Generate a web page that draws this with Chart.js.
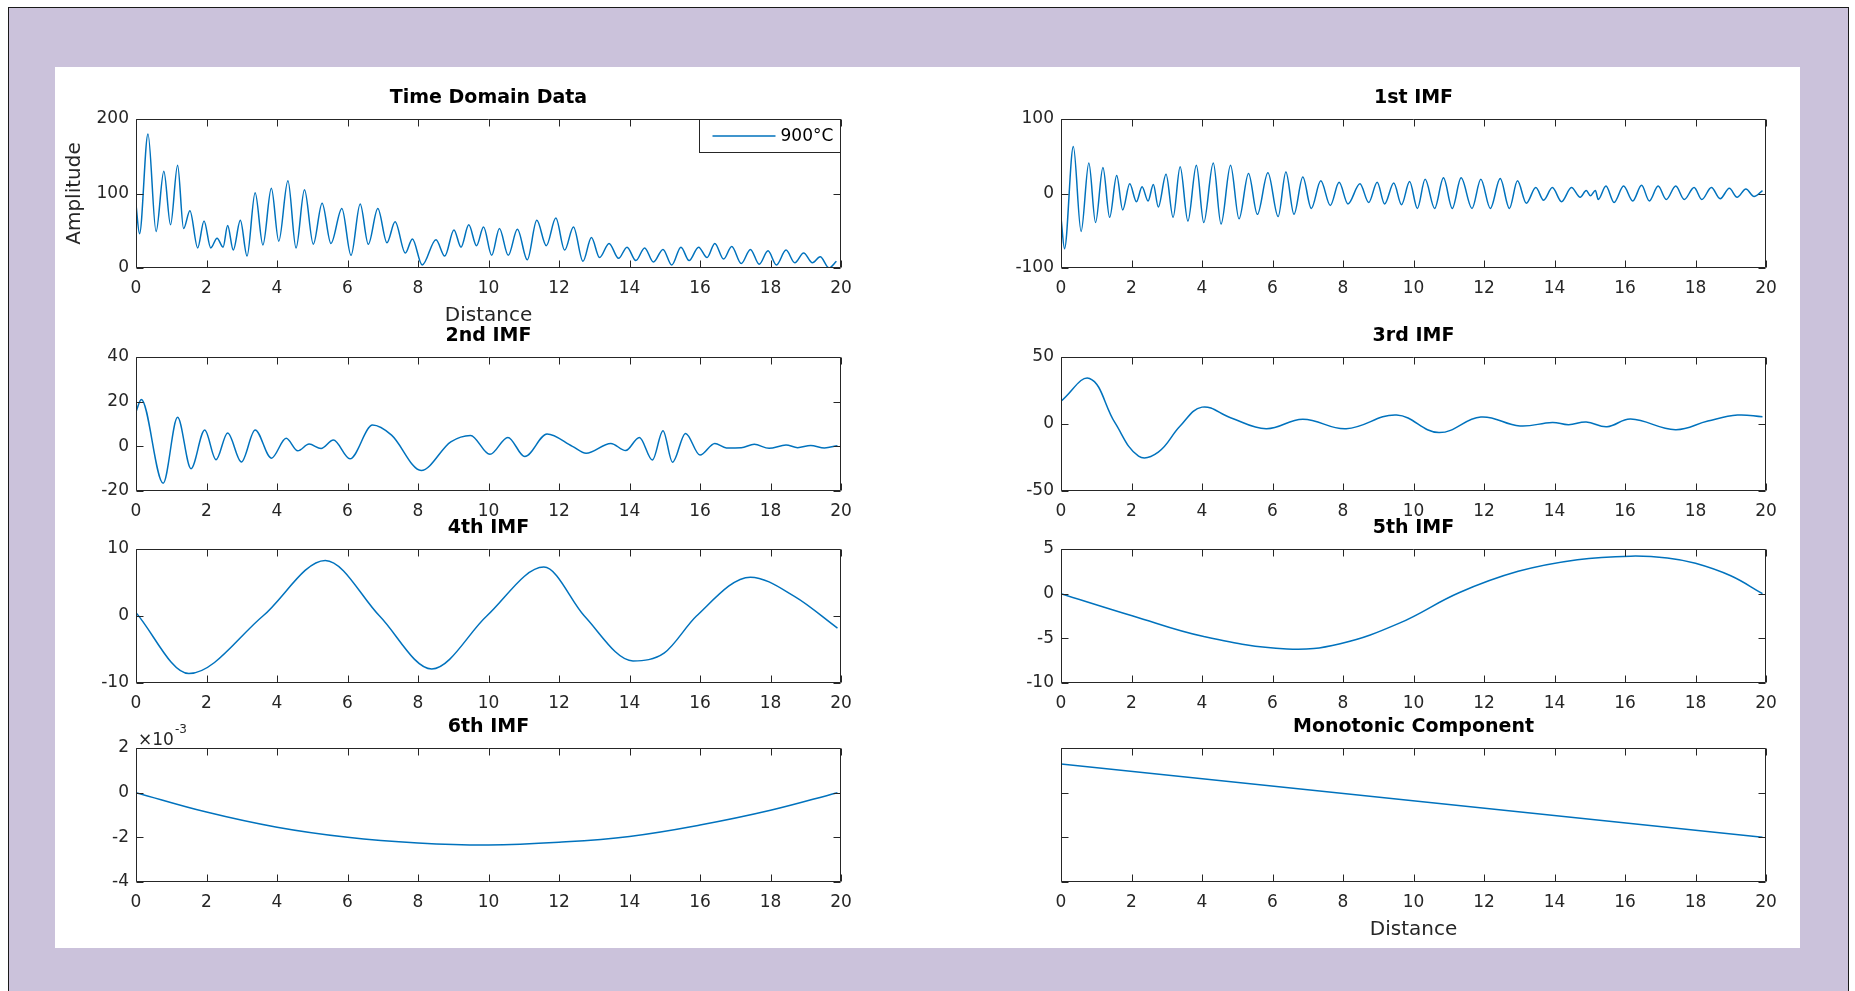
<!DOCTYPE html>
<html>
<head>
<meta charset="utf-8">
<script src="https://cdn.jsdelivr.net/npm/chart.js@4.4.0/dist/chart.umd.min.js"></script>
<style>
  html, body { margin: 0; padding: 0; background: #fff; width: 1855px; height: 991px; overflow: hidden; }
  #frame { position: absolute; left: 8px; top: 7px; width: 1839px; height: 990px; background: #cbc2db; border: 1px solid #1a1a1a; border-bottom: none; }
  #panel { position: absolute; left: 55px; top: 67px; width: 1745px; height: 881px; background: #fff; }
  .cell { position: absolute; }
</style>
</head>
<body>
<div id="frame"></div>
<div id="panel"></div>
<div class="cell" id="c0"><canvas id="time"></canvas></div>
<div class="cell" id="c1"><canvas id="imf1"></canvas></div>
<div class="cell" id="c2"><canvas id="imf2"></canvas></div>
<div class="cell" id="c3"><canvas id="imf3"></canvas></div>
<div class="cell" id="c4"><canvas id="imf4"></canvas></div>
<div class="cell" id="c5"><canvas id="imf5"></canvas></div>
<div class="cell" id="c6"><canvas id="imf6"></canvas></div>
<div class="cell" id="c7"><canvas id="mono"></canvas></div>
<script>
// ---- data ----
const distTicks = [0, 2, 4, 6, 8, 10, 12, 14, 16, 18, 20];

const timeTicks = [0, 100, 200];
const timeX = [0, 0.1, 0.34, 0.57, 0.79, 0.98, 1.18, 1.35, 1.53, 1.75, 1.93, 2.12, 2.3, 2.47, 2.6, 2.76, 2.96, 3.15, 3.38, 3.6,
  3.84, 4.05, 4.31, 4.54, 4.78, 5.03, 5.28, 5.53, 5.84, 6.1, 6.36, 6.59, 6.86, 7.12, 7.35, 7.64, 7.84, 8.12, 8.51, 8.76,
  9.02, 9.22, 9.44, 9.66, 9.86, 10.09, 10.31, 10.56, 10.82, 11.1, 11.37, 11.64, 11.91, 12.16, 12.41, 12.68, 12.92, 13.15, 13.42, 13.69,
  13.93, 14.18, 14.43, 14.68, 14.95, 15.2, 15.46, 15.69, 15.96, 16.2, 16.42, 16.67, 16.9, 17.17, 17.43, 17.68, 17.93, 18.17, 18.44, 18.69,
  18.94, 19.19, 19.41, 19.66, 19.87];
const timeY = [85, 46, 180, 49, 130, 58, 138, 53, 77, 27, 63, 27, 40, 28, 57, 24, 64, 16, 101, 31,
  107, 36, 117, 27, 105, 32, 87, 33, 80, 17, 86, 32, 80, 34, 62, 20, 39, 4, 38, 16,
  51, 28, 58, 30, 55, 17, 53, 17, 52, 11, 64, 30, 67, 24, 55, 9, 41, 14, 33, 13,
  28, 10, 27, 8, 25, 4, 28, 10, 28, 14, 33, 12, 29, 6, 25, 5, 23, 4, 24, 7,
  20, 7, 15, 0, 9];

const imf1Ticks = [-100, 0, 100];
const imf1X = [0, 0.1, 0.35, 0.57, 0.79, 0.98, 1.19, 1.38, 1.58, 1.75, 1.95, 2.14, 2.3, 2.47, 2.62, 2.76, 2.98, 3.18, 3.38, 3.6,
  3.84, 4.05, 4.32, 4.54, 4.81, 5.05, 5.32, 5.57, 5.87, 6.16, 6.38, 6.61, 6.86, 7.1, 7.37, 7.64, 7.89, 8.14, 8.48, 8.73,
  8.97, 9.18, 9.44, 9.66, 9.89, 10.11, 10.33, 10.6, 10.85, 11.1, 11.35, 11.66, 11.91, 12.18, 12.46, 12.72, 12.95, 13.2, 13.47, 13.69,
  13.94, 14.2, 14.48, 14.73, 14.9, 15.02, 15.16, 15.24, 15.46, 15.69, 15.96, 16.22, 16.47, 16.69, 16.94, 17.17, 17.44, 17.68, 17.96, 18.18,
  18.45, 18.7, 18.96, 19.18, 19.43, 19.66, 19.9];
const imf1Y = [-32, -74, 63, -51, 41, -39, 35, -32, 24, -22, 13, -11, 9, -10, 12, -18, 26, -32, 36, -37,
  38, -39, 41, -41, 38, -34, 27, -28, 28, -31, 29, -28, 22, -20, 17, -16, 15, -14, 13, -12,
  15, -14, 14, -15, 16, -20, 19, -20, 21, -20, 21, -20, 19, -20, 20, -20, 17, -13, 8, -9,
  8, -11, 8, -5, 4, -3, 4, -8, 10, -12, 10, -10, 11, -10, 10, -8, 10, -8, 8, -8,
  8, -7, 7, -5, 6, -4, 4];

const imf2Ticks = [-20, 0, 20, 40];
const imf2X = [0, 0.15, 0.77, 1.18, 1.56, 1.95, 2.27, 2.6, 2.99, 3.38, 3.84, 4.26, 4.59, 4.91, 5.25, 5.6, 6.07, 6.71, 7.25, 8.09,
  8.93, 9.49, 10.04, 10.55, 11.03, 11.66, 12.38, 12.77, 13.47, 13.89, 14.28, 14.65, 14.95, 15.22, 15.59, 16.0, 16.42, 16.75, 17.17, 17.54,
  17.96, 18.44, 18.77, 19.14, 19.53, 19.9];
const imf2Y = [15.5, 21, -16.5, 13, -10, 7.3, -6, 6, -7, 7.3, -5.3, 3.6, -2, 1, -1, 2.8, -5.6, 9.5, 5, -10.8,
  2, 4.9, -3.6, 4, -4.6, 5.5, 0, -3.1, 1.3, -1.9, 4, -6.1, 7, -7.1, 5.8, -3.9, 1.3, -0.7, -0.6, 0.9,
  -0.9, 0.6, -0.6, 0.4, -0.7, 0.3];

const imf3Ticks = [-50, 0, 50];
const imf3X = [0, 0.81, 1.53, 2.2, 2.76, 3.38, 4.0, 4.81, 5.82, 6.86, 8.09, 9.52, 10.72, 11.91, 13.02, 13.94, 14.4, 14.9, 15.49, 16.16,
  17.43, 18.35, 19.19, 19.9];
const imf3Y = [17, 34, 1, -24, -21, -1.5, 12.6, 4.7, -3.5, 3.5, -3.5, 6.7, -6.4, 5.2, -1.5, 1.2, -0.5, 1.5, -2, 3.7,
  -4.2, 2.2, 6.7, 5.4];

const imf4Ticks = [-10, 0, 10];
const imf4X = [0, 1.5, 3.6, 5.37, 6.91, 8.39, 9.95, 11.57, 12.72, 14.1, 14.99, 15.9, 17.43, 18.69, 19.9];
const imf4Y = [0.5, -8.6, 0, 8.3, 0, -7.9, 0, 7.3, 0, -6.7, -5.5, 0, 5.8, 2.9, -1.8];

const imf5Ticks = [-10, -5, 0, 5];
const imf5X = [0, 2.04, 4.05, 6.41, 7.92, 9.6, 11.29, 12.97, 14.65, 16.16, 17.2, 18.0, 19.0, 19.9];
const imf5Y = [0, -2.5, -4.8, -6.2, -5.6, -3.3, 0.1, 2.5, 3.8, 4.2, 4.0, 3.4, 2.0, 0];

// 6th IMF values in units of 1e-3
const imf6Ticks = [-4, -2, 0, 2];
const imf6X = [0, 2, 4, 6, 8, 10, 12, 14, 16, 18, 19.9];
const imf6Y = [0, -0.87, -1.55, -2.0, -2.25, -2.34, -2.22, -1.96, -1.45, -0.79, 0];

// monotonic component: ticks shown without labels
const monoTicks = [0, 1, 2, 3];
const monoX = [0, 19.9];
const monoY = [2.64, 1.0];

const FONT = "DejaVu Sans";
const AXIS = "#262626";
const BLUE = "#0072BD";

// inward tick marks and box, MATLAB style
const boxTicks = {
  id: "boxTicks",
  afterDatasetsDraw(chart) {
    const { ctx, chartArea: a, scales } = chart;
    const L = Math.round(a.left) + 0.5, R = Math.round(a.right) - 0.5;
    const T = Math.round(a.top) + 0.5, B = Math.round(a.bottom) - 0.5;
    ctx.save();
    ctx.strokeStyle = AXIS;
    ctx.lineWidth = 1;
    ctx.beginPath();
    scales.x.ticks.forEach((t) => {
      const p = Math.round(scales.x.getPixelForValue(t.value)) + 0.5;
      ctx.moveTo(p, B); ctx.lineTo(p, B - 7);
      ctx.moveTo(p, T); ctx.lineTo(p, T + 7);
    });
    scales.y.ticks.forEach((t) => {
      const p = Math.round(scales.y.getPixelForValue(t.value)) + 0.5;
      ctx.moveTo(L, p); ctx.lineTo(L + 7, p);
      ctx.moveTo(R, p); ctx.lineTo(R - 7, p);
    });
    ctx.rect(L, T, R - L, B - T);
    ctx.stroke();
    ctx.restore();
  },
};

// boxed legend in the top right corner
const boxLegend = {
  id: "boxLegend",
  afterDraw(chart, args, opts) {
    if (!opts.show) return;
    const { ctx, chartArea: a } = chart;
    const ds = chart.data.datasets[0];
    const w = 142, h = 33;
    const x0 = Math.round(a.right - w) + 0.5, y0 = Math.round(a.top) + 0.5;
    ctx.save();
    ctx.fillStyle = "#fff";
    ctx.fillRect(x0, y0, w - 1, h);
    ctx.strokeStyle = AXIS;
    ctx.lineWidth = 1;
    ctx.strokeRect(x0, y0, w - 1, h);
    ctx.strokeStyle = ds.borderColor;
    ctx.lineWidth = 1.5;
    ctx.beginPath();
    ctx.moveTo(x0 + 13, y0 + h / 2);
    ctx.lineTo(x0 + 76, y0 + h / 2);
    ctx.stroke();
    ctx.fillStyle = "#000";
    ctx.font = "17px " + FONT;
    ctx.textBaseline = "middle";
    ctx.fillText(ds.label, x0 + 81, y0 + h / 2 + 1);
    ctx.restore();
  },
};

// "x10^-3" exponent label above the y axis
const expLabel = {
  id: "expLabel",
  afterDraw(chart, args, opts) {
    if (!opts.base) return;
    const { ctx, chartArea: a } = chart;
    ctx.save();
    ctx.fillStyle = AXIS;
    ctx.textBaseline = "alphabetic";
    ctx.font = "17px " + FONT;
    ctx.fillText(opts.base, a.left + 2, a.top - 3);
    const w = ctx.measureText(opts.base).width;
    ctx.font = "12px " + FONT;
    ctx.fillText(opts.exp, a.left + 3 + w, a.top - 15);
    ctx.restore();
  },
};

// ---- layout ----
const SIDE = 81;      // room left and right of each plot
const TOP = 32;       // title box
function place(cellId, plotLeft, plotTop, plotW, plotH, bottom) {
  const el = document.getElementById(cellId);
  el.style.left = plotLeft - SIDE + "px";
  el.style.top = plotTop - TOP + "px";
  el.style.width = plotW + 2 * SIDE + "px";
  el.style.height = TOP + plotH + bottom + "px";
}

function makePanel(canvasId, cfg) {
  const yTicks = cfg.yTicks;
  return new Chart(document.getElementById(canvasId), {
    type: "line",
    data: {
      datasets: [{
        label: cfg.label || "",
        data: cfg.xs.map((x, i) => ({ x: x, y: cfg.ys[i] })),
        borderColor: BLUE,
        borderWidth: 1.5,
        pointRadius: 0,
        fill: false,
        cubicInterpolationMode: cfg.smooth ? "default" : "monotone",
        tension: cfg.smooth ? 0.4 : 0,
      }],
    },
    options: {
      responsive: true,
      maintainAspectRatio: false,
      animation: false,
      events: [],
      layout: { padding: { right: SIDE } },
      plugins: {
        legend: { display: false },
        tooltip: { enabled: false },
        title: {
          display: true,
          fullSize: false,
          text: cfg.title,
          color: "#000",
          font: { family: FONT, size: 19, weight: "bold", lineHeight: "22px" },
          padding: { top: 0, bottom: 10 },
        },
        boxLegend: { show: !!cfg.label },
        expLabel: { base: cfg.expBase, exp: cfg.exp },
      },
      scales: {
        x: {
          type: "linear",
          min: distTicks[0],
          max: distTicks[distTicks.length - 1],
          afterBuildTicks: (s) => { s.ticks = distTicks.map((v) => ({ value: v })); },
          afterFit: (s) => { s.height = cfg.bottom; },
          grid: { display: false, drawTicks: false },
          border: { display: false },
          ticks: { autoSkip: false, maxRotation: 0, padding: 10, color: AXIS, font: { family: FONT, size: 17 } },
          title: {
            display: !!cfg.xTitle,
            text: cfg.xTitle || "",
            color: AXIS,
            font: { family: FONT, size: 20 },
            padding: { top: 0, bottom: 0 },
          },
        },
        y: {
          type: "linear",
          min: yTicks[0],
          max: yTicks[yTicks.length - 1],
          afterBuildTicks: (s) => { s.ticks = yTicks.map((v) => ({ value: v })); },
          afterFit: (s) => { s.width = SIDE; },
          grid: { display: false, drawTicks: false },
          border: { display: false },
          ticks: { display: cfg.yLabels !== false, padding: 7, color: AXIS, font: { family: FONT, size: 17 } },
          title: {
            display: !!cfg.yTitle,
            text: cfg.yTitle || "",
            color: AXIS,
            font: { family: FONT, size: 20 },
            padding: { top: 8, bottom: 0 },
          },
        },
      },
    },
    plugins: [boxTicks, boxLegend, expLabel],
  });
}

const leftX = 136, rightX = 1061, plotW = 705;
place("c0", leftX, 119, plotW, 149, 60);
place("c1", rightX, 119, plotW, 149, 40);
place("c2", leftX, 357, plotW, 134, 40);
place("c3", rightX, 357, plotW, 134, 40);
place("c4", leftX, 549, plotW, 134, 40);
place("c5", rightX, 549, plotW, 134, 40);
place("c6", leftX, 748, plotW, 134, 40);
place("c7", rightX, 748, plotW, 134, 60);

makePanel("time", { xs: timeX, ys: timeY, yTicks: timeTicks, title: "Time Domain Data", label: "900°C",
  xTitle: "Distance", yTitle: "Amplitude", bottom: 60 });
makePanel("imf1", { xs: imf1X, ys: imf1Y, yTicks: imf1Ticks, title: "1st IMF", bottom: 40 });
makePanel("imf2", { xs: imf2X, ys: imf2Y, yTicks: imf2Ticks, title: "2nd IMF", bottom: 40 });
makePanel("imf3", { xs: imf3X, ys: imf3Y, yTicks: imf3Ticks, title: "3rd IMF", bottom: 40, smooth: true });
makePanel("imf4", { xs: imf4X, ys: imf4Y, yTicks: imf4Ticks, title: "4th IMF", bottom: 40 });
makePanel("imf5", { xs: imf5X, ys: imf5Y, yTicks: imf5Ticks, title: "5th IMF", bottom: 40, smooth: true });
makePanel("imf6", { xs: imf6X, ys: imf6Y, yTicks: imf6Ticks, title: "6th IMF", bottom: 40, smooth: true,
  expBase: "\u00d710", exp: "-3" });
makePanel("mono", { xs: monoX, ys: monoY, yTicks: monoTicks, title: "Monotonic Component", xTitle: "Distance",
  bottom: 60, yLabels: false });
</script>
</body>
</html>
